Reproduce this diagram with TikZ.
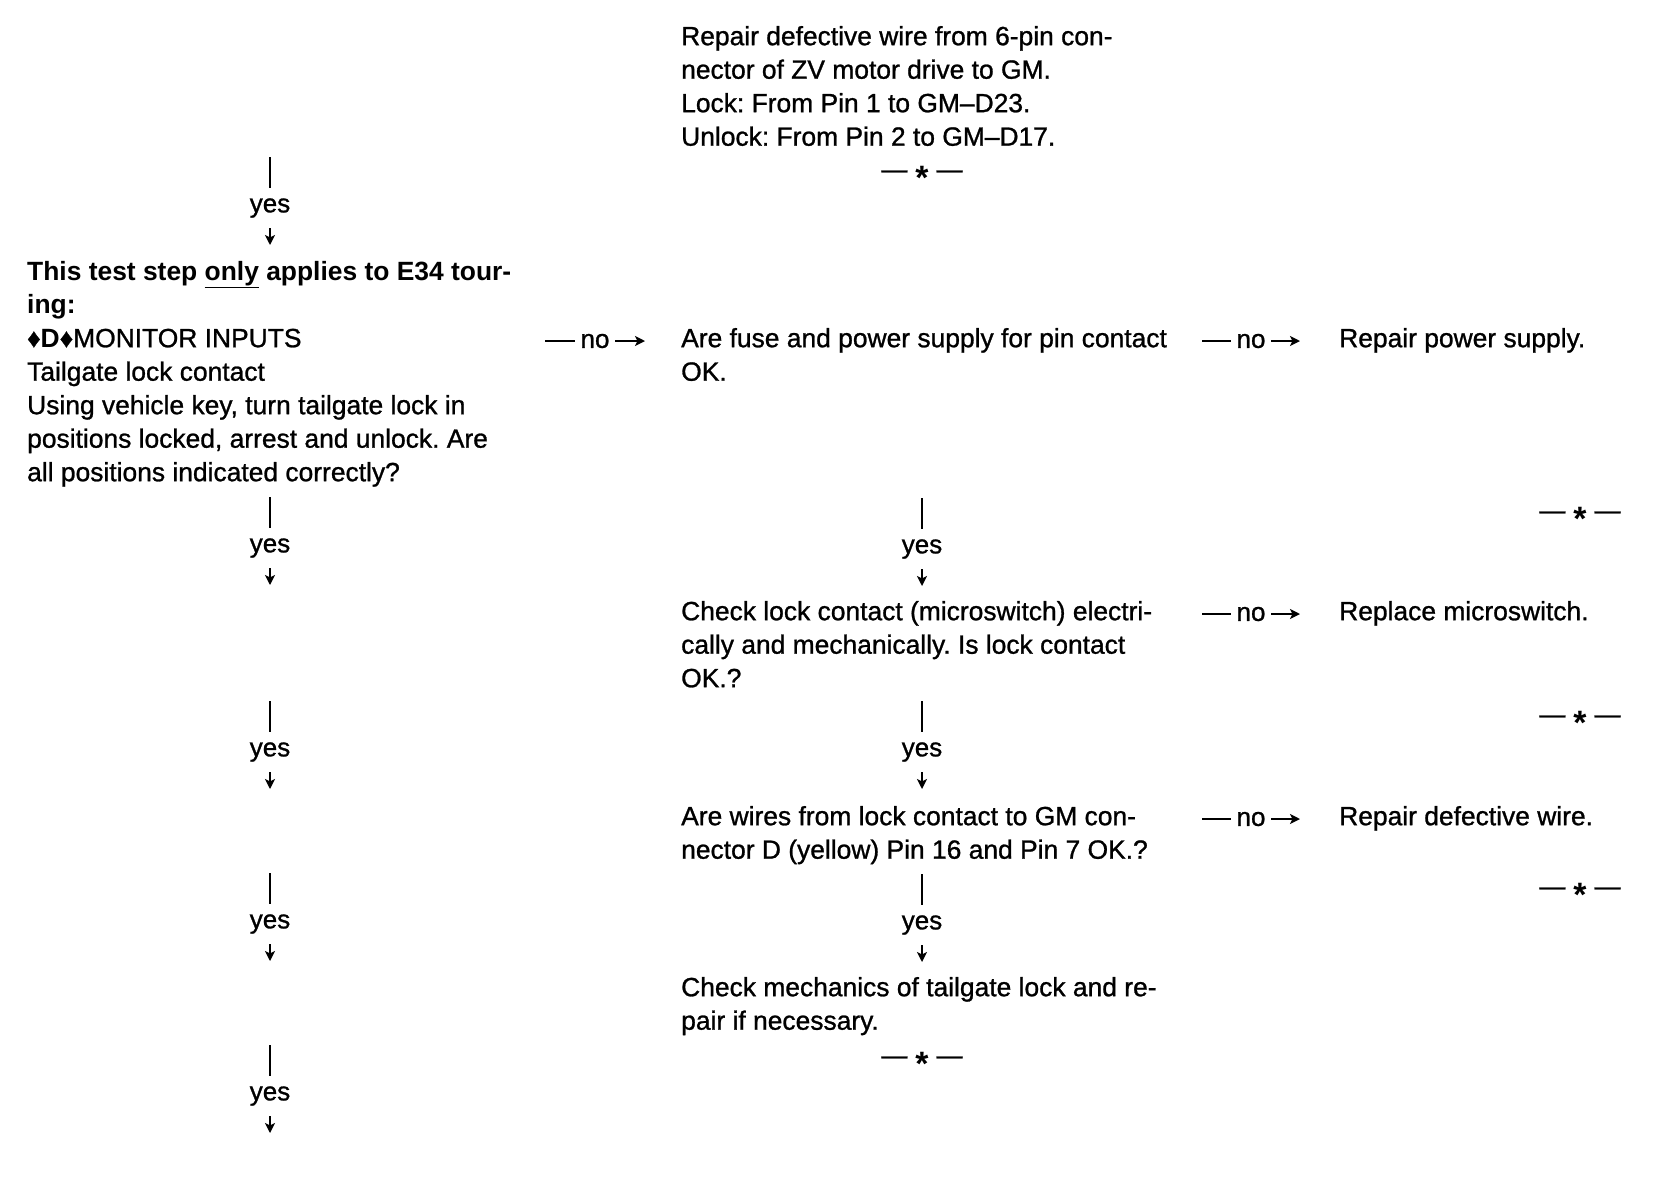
\documentclass[tikz,border=0pt]{standalone}
\usepackage{fontspec}
\usepackage{graphicx}
\setmainfont{Liberation Sans}[UprightFeatures={FakeBold=1.0}]
\usetikzlibrary{arrows.meta}
\frenchspacing
\newcommand{\lnstrut}{\rule{0pt}{22pt}}
\newcommand{\stopast}{\raisebox{-11pt}{\scalebox{1.3}{\textbf{*}}}}
\begin{document}
\begin{tikzpicture}[x=1pt,y=-1pt,
  txt/.style={anchor=north west, inner sep=0pt, align=left, font=\fontsize{26.4}{33.5}\selectfont},
  lbl/.style={fill=white, inner xsep=6pt, inner ysep=1pt, font=\fontsize{26}{28}\selectfont},
  vlbl/.style={fill=white, inner sep=0pt, minimum height=40pt, minimum width=48pt, font=\fontsize{26}{28}\selectfont},
  conn/.style={line width=2pt, -{Stealth[length=10pt,width=10pt,inset=2.5pt]}},
  stopmark/.style={inner sep=0pt, anchor=base, font=\fontsize{26}{28}\selectfont}]
\useasboundingbox (0,0) rectangle (1654,1184);
\fill[white] (0,0) rectangle (1654,1184);

% ---- text blocks ----
\node[txt] (repwire) at (681,45-22) {\lnstrut Repair defective wire from 6-pin con-\\nector of ZV motor drive to GM.\\Lock: From Pin 1 to GM–D23.\\Unlock: From Pin 2 to GM–D17.};
\node[stopmark] (e1) at (922,178) {—\hspace{8pt}\stopast\hspace{8pt}—};

\node[txt] (step) at (27,280-22) {\lnstrut\textbf{This test step \underline{only} applies to E34 tour-}\\\textbf{ing:}\\♦\textbf{D}♦MONITOR INPUTS\\Tailgate lock contact\\Using vehicle key, turn tailgate lock in\\positions locked, arrest and unlock. Are\\all positions indicated correctly?};

\node[txt] (fuse) at (681,347-22) {\lnstrut Are fuse and power supply for pin contact\\OK.};
\node[txt] (reppow) at (1339,347-22) {\lnstrut Repair power supply.};
\node[stopmark] (e2) at (1580,519) {—\hspace{8pt}\stopast\hspace{8pt}—};

\node[txt] (micro) at (681,620-22) {\lnstrut Check lock contact (microswitch) electri-\\cally and mechanically. Is lock contact\\OK.?};
\node[txt] (repmic) at (1339,620-22) {\lnstrut Replace microswitch.};
\node[stopmark] (e3) at (1580,723) {—\hspace{8pt}\stopast\hspace{8pt}—};

\node[txt] (wires) at (681,825-22) {\lnstrut Are wires from lock contact to GM con-\\nector D (yellow) Pin 16 and Pin 7 OK.?};
\node[txt] (repwir2) at (1339,825-22) {\lnstrut Repair defective wire.};
\node[stopmark] (e4) at (1580,895) {—\hspace{8pt}\stopast\hspace{8pt}—};

\node[txt] (mech) at (681,996-22) {\lnstrut Check mechanics of tailgate lock and re-\\pair if necessary.};
\node[stopmark] (e5) at (922,1064) {—\hspace{8pt}\stopast\hspace{8pt}—};

% ---- "no" connectors ----
\coordinate (n1a) at (545,341); \coordinate (n1b) at (645,341);
\coordinate (n2a) at (1202,341); \coordinate (n2b) at (1300,341);
\coordinate (n3a) at (1202,614); \coordinate (n3b) at (1300,614);
\coordinate (n4a) at (1202,819); \coordinate (n4b) at (1300,819);
\draw[conn] (n1a) -- node[lbl]{no} (n1b);
\draw[conn] (n2a) -- node[lbl]{no} (n2b);
\draw[conn] (n3a) -- node[lbl]{no} (n3b);
\draw[conn] (n4a) -- node[lbl]{no} (n4b);

% ---- "yes" connectors, left column ----
\foreach \i/\y in {1/204,2/544,3/748,4/920,5/1092}{
  \coordinate (la\i) at (270,\y-47);
  \coordinate (lb\i) at (270,\y+41);
  \draw[conn] (la\i) -- node[vlbl,pos=0.58]{yes} (lb\i);
}
% ---- "yes" connectors, middle column ----
\foreach \i/\y in {1/545,2/748,3/921}{
  \coordinate (ma\i) at (922,\y-47);
  \coordinate (mb\i) at (922,\y+41);
  \draw[conn] (ma\i) -- node[vlbl,pos=0.58]{yes} (mb\i);
}
\end{tikzpicture}
\end{document}
